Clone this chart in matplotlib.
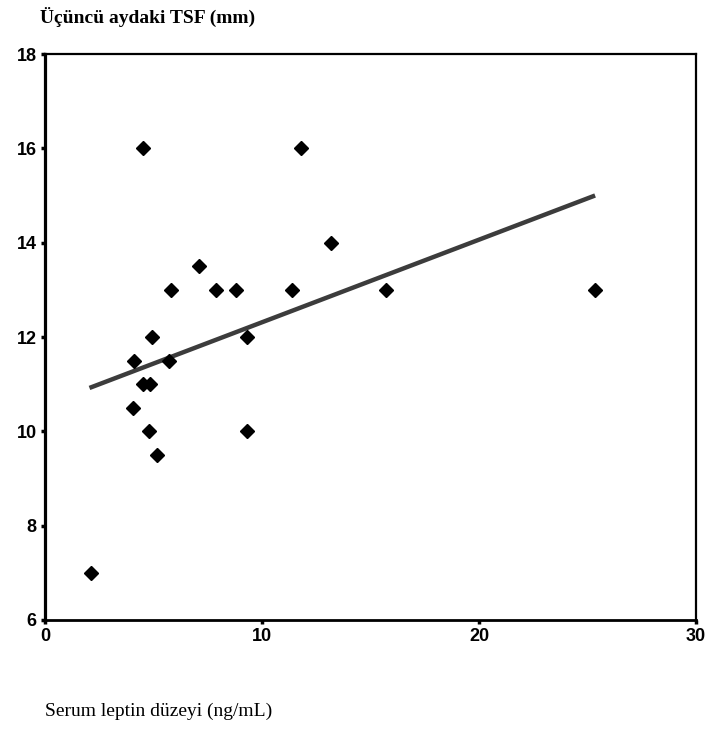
import matplotlib
matplotlib.use('Agg')
import matplotlib.pyplot as plt

plt.rcParams['font.family'] = ['Liberation Sans', 'DejaVu Sans']

# serum leptin (ng/mL) vs triceps skinfold at month 3 (mm)
leptin = [2.1, 4.5, 11.8, 13.2, 7.1, 5.8, 7.9, 8.8, 11.4, 15.7, 25.35,
          4.95, 9.3, 4.1, 5.7, 4.5, 4.85, 4.05, 4.8, 9.3, 5.15]
tsf = [7.0, 16.0, 16.0, 14.0, 13.5, 13.0, 13.0, 13.0, 13.0, 13.0, 13.0,
       12.0, 12.0, 11.5, 11.5, 11.0, 11.0, 10.5, 10.0, 10.0, 9.5]

# trend line end points
trend_x = [2.05, 25.35]
trend_y = [10.92, 15.0]

x_ticks = [0, 10, 20, 30]
y_ticks = [6, 8, 10, 12, 14, 16, 18]

fig = plt.figure(figsize=(7.10, 7.32), dpi=100)
ax = fig.add_axes([45 / 710, 1 - 620 / 732, 651 / 710, 566 / 732])

ax.plot(trend_x, trend_y, color='#3c3c3c', lw=3.2, solid_capstyle='butt', zorder=2)
ax.plot(leptin, tsf, linestyle='none', marker='D', markersize=7.6,
        color='black', zorder=3)

ax.set_xlim(0, 30)
ax.set_ylim(6, 18)
ax.set_xticks(x_ticks)
ax.set_yticks(y_ticks)
ax.tick_params(direction='out', length=3, width=2.5, color='black',
               labelsize=13, pad=3)
for lab in ax.get_xticklabels() + ax.get_yticklabels():
    lab.set_fontweight('bold')

ax.spines['left'].set_linewidth(2.3)
ax.spines['bottom'].set_linewidth(2.0)
ax.spines['top'].set_linewidth(1.6)
ax.spines['right'].set_linewidth(1.6)

fig.text(40 / 710, 1 - 17 / 732, 'Üçüncü aydaki TSF (mm)', ha='left', va='center',
         fontsize=14, family=['Liberation Serif', 'DejaVu Serif'], fontweight='bold')
fig.text(45 / 710, 1 - 711 / 732, 'Serum leptin düzeyi (ng/mL)', ha='left', va='center',
         fontsize=14, family=['Liberation Serif', 'DejaVu Serif'])

fig.savefig('out.png', dpi=100, facecolor='white')
